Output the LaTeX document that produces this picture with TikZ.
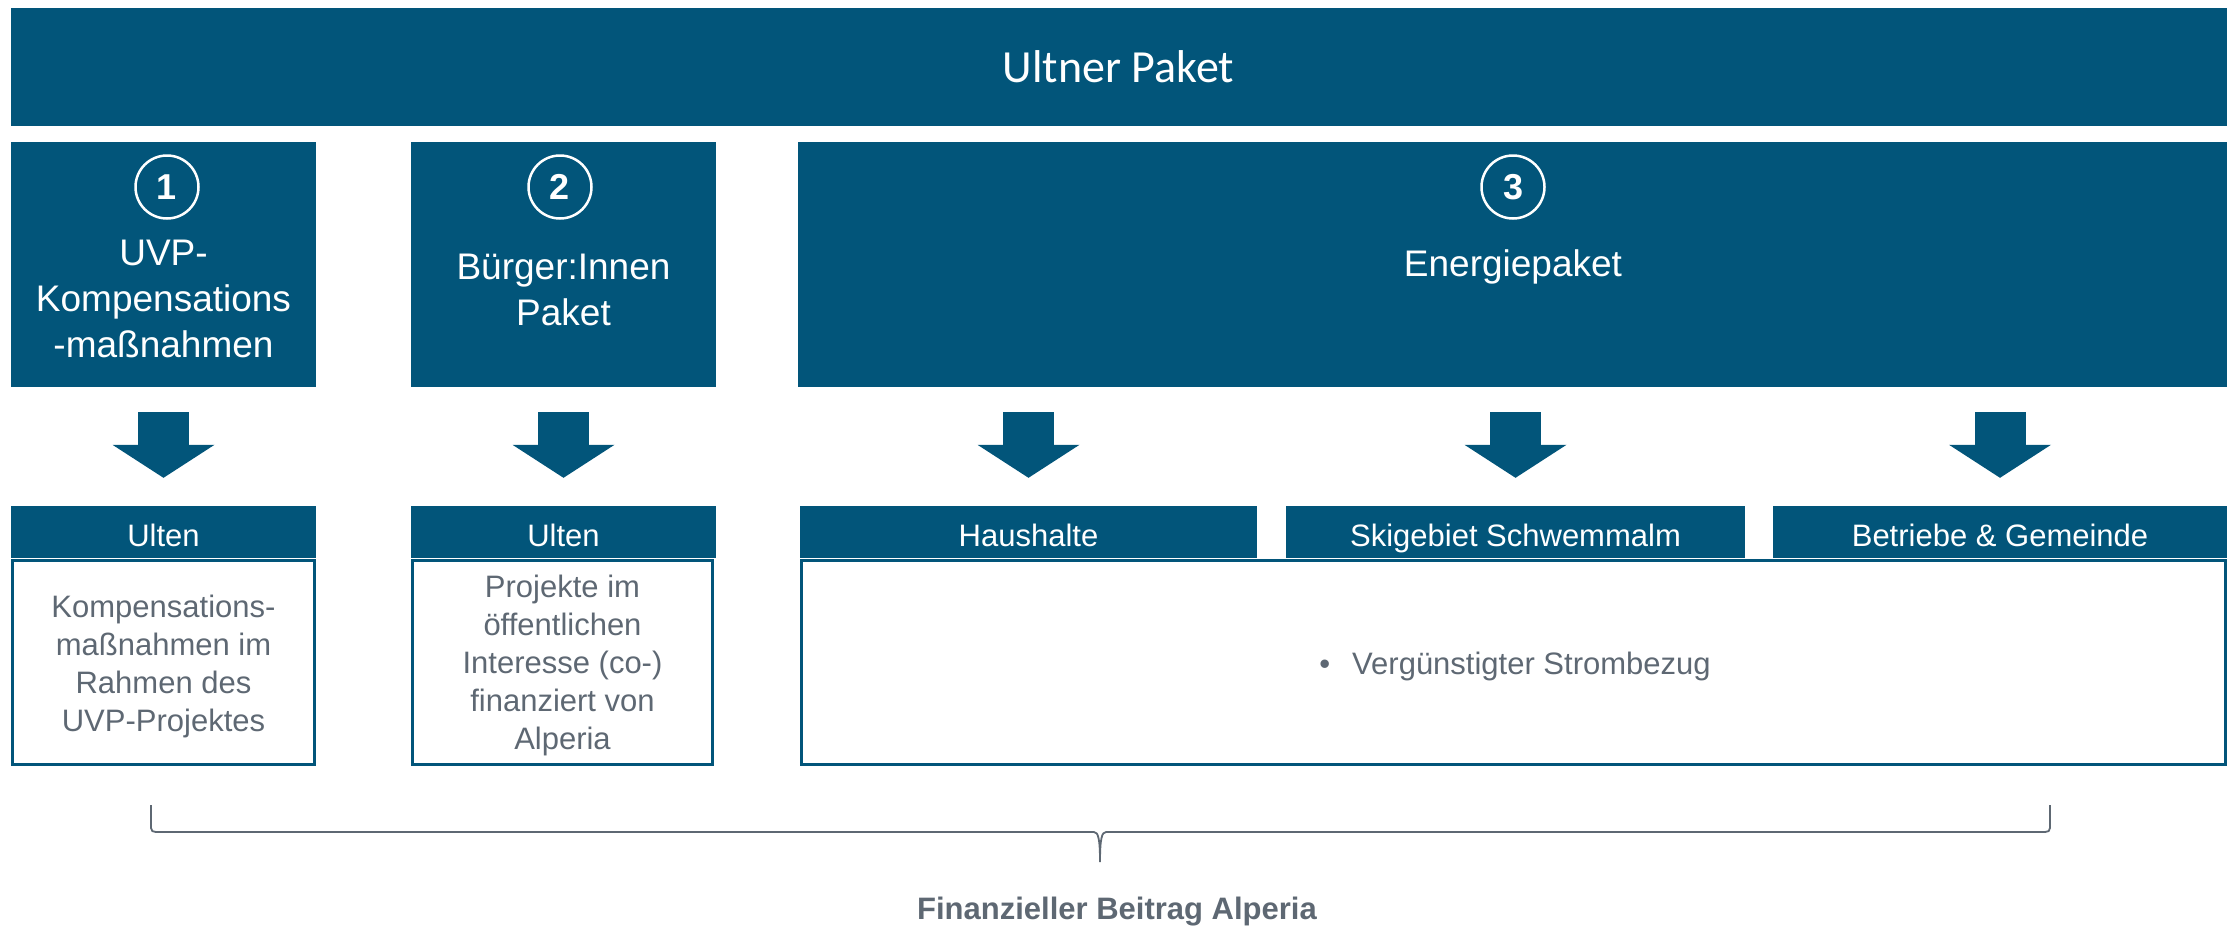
\documentclass[tikz,border=0pt]{standalone}
\usepackage{fontspec}
\setmainfont{Liberation Sans}
\newfontfamily\calfont{Carlito}
\usetikzlibrary{arrows.meta}
\definecolor{ablue}{HTML}{02557A}
\definecolor{agrey}{HTML}{5E6873}
\begin{document}
\begin{tikzpicture}[x=1pt,y=-1pt,
  box/.style={fill=ablue, inner sep=0pt, text=white},
  numc/.style={circle, draw=white, line width=2.5pt, minimum size=63pt, inner sep=0pt, text=white, font=\bfseries\fontsize{36}{36}\selectfont},
  ttl/.style={text=white, align=center, inner sep=0pt, font=\fontsize{37}{46}\selectfont},
  hdr/.style={fill=ablue, text=white, inner sep=0pt, minimum height=52pt, text height=30pt, text depth=2pt, font=\fontsize{31}{38}\selectfont},
  body/.style={draw=ablue, line width=2.5pt, inner sep=0pt, text=agrey, align=center, minimum height=204pt, font=\fontsize{31}{38}\selectfont},
  btxt/.style={text=agrey, align=center, inner sep=0pt, font=\fontsize{31}{38}\selectfont},
  fat/.style={draw=ablue, line width=51pt, -{Triangle[width=102pt,length=33pt,line width=0pt]}, shorten <=25pt, shorten >=28pt},
  brace/.style={draw=agrey, line width=1.8pt},
  lbl/.style={text=agrey, font=\bfseries\fontsize{31}{38}\selectfont}
]
\useasboundingbox (0,0) rectangle (2232,930);
% top bar
\node[box, minimum width=2216pt, minimum height=118pt, font=\calfont\fontsize{46}{54}\selectfont] (top) at (1118.5,66.5) {Ultner Paket};
% packages
\node[box, minimum width=305pt, minimum height=245pt] (p1) at (163.5,264.5) {};
\node[box, minimum width=305pt, minimum height=245pt] (p2) at (563.5,264.5) {};
\node[box, minimum width=1429pt, minimum height=245pt] (p3) at (1512.5,264.5) {};
\node[numc] (n1) at (167,187) {1};
\node[numc] (n2) at (560,187) {2};
\node[numc] (n3) at (1513,187) {3};
\node[ttl] (t1) at (163.5,299) {UVP-\\Kompensations\\-maßnahmen};
\node[ttl] (t2) at (563.5,289.5) {Bürger:Innen\\Paket};
\node[ttl] (t3) at (1513,267) {Energiepaket};
% headers
\node[hdr, minimum width=305pt] (h1) at (163.5,532) {Ulten};
\node[hdr, minimum width=305pt] (h2) at (563.5,532) {Ulten};
\node[hdr, minimum width=457pt] (h3a) at (1028.5,532) {Haushalte};
\node[hdr, minimum width=459pt] (h3b) at (1515.5,532) {Skigebiet Schwemmalm};
\node[hdr, minimum width=454pt] (h3c) at (2000,532) {Betriebe \& Gemeinde};
% bodies
\node[body, minimum width=302pt] (b1) at (163.5,662.5) {};
\node[body, minimum width=300pt] (b2) at (562.5,662.5) {};
\node[body, minimum width=1424pt] (b3) at (1513.5,662.5) {};
\node[btxt] (b1t) at (163.5,666) {Kompensations-\\maßnahmen im\\Rahmen des\\UVP-Projektes};
\node[btxt] (b2t) at (562.5,665.5) {Projekte im\\öffentlichen\\Interesse (co-)\\finanziert von\\Alperia};
\node[btxt] (b3t) at (1515,666) {\textbullet\hspace{22pt}Vergünstigter Strombezug};
% block arrows
\draw[fat] (p1.south -| h1.north) -- (h1.north);
\draw[fat] (p2.south -| h2.north) -- (h2.north);
\draw[fat] (p3.south -| h3a.north) -- (h3a.north);
\draw[fat] (p3.south -| h3b.north) -- (h3b.north);
\draw[fat] (p3.south -| h3c.north) -- (h3c.north);
% brace
\draw[brace] (151,805) -- (151,828) .. controls (151,831) and (153,832) .. (156,832) -- (1094,832) .. controls (1098,832) and (1100,838) .. (1100,862) .. controls (1100,838) and (1102,832) .. (1106,832) -- (2045,832) .. controls (2048,832) and (2050,831) .. (2050,828) -- (2050,805);
\node[lbl] (fin) at (1117,912) {Finanzieller Beitrag Alperia};
\end{tikzpicture}
\end{document}
